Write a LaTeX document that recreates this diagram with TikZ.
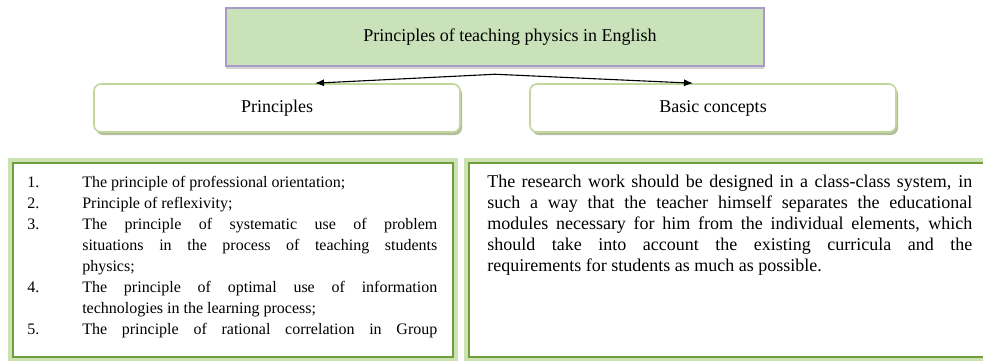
\documentclass[tikz,border=0pt]{standalone}
\usepackage{fontspec}
\setmainfont{Liberation Serif}
\usetikzlibrary{positioning,shadows,arrows.meta}
\definecolor{titlegreen}{RGB}{201,226,185}
\definecolor{titlepurple}{RGB}{167,155,201}
\definecolor{softgreen}{RGB}{195,214,155}
\definecolor{shadowgreen}{RGB}{178,190,160}
\definecolor{darkgreen}{RGB}{110,158,62}
\definecolor{glowgreen}{RGB}{205,226,178}
\tikzstyle{titlebox}=[draw=titlepurple, line width=2.5pt, fill=titlegreen,
  minimum width=538pt, minimum height=58pt, font=\fontsize{18}{21}\selectfont,
  drop shadow={shadow xshift=0pt, shadow yshift=-3pt, fill=gray!70}]
\tikzstyle{headbox}=[draw=softgreen, line width=1.6pt, fill=white,
  rounded corners=7pt, minimum width=366pt, minimum height=48pt,
  font=\fontsize{18}{21}\selectfont,
  drop shadow={shadow xshift=2pt, shadow yshift=-3pt, fill=shadowgreen, opacity=1}]
\tikzstyle{framebox}=[draw=darkgreen, line width=1.8pt, fill=white,
  preaction={draw=glowgreen, line width=10pt}, minimum height=194pt]
\tikzstyle{bodytext}=[inner sep=0pt, anchor=north west, align=justify]
\newcommand{\listentry}[2]{\par\noindent\hangindent=55pt\hangafter=1\makebox[55pt][l]{#1}#2\par}
\tolerance=10000
\hbadness=10000

\begin{document}
\begin{tikzpicture}[>={Latex[length=9pt,width=7pt]}, x=1pt, y=-1pt]
        \useasboundingbox (0,0) rectangle (983,361);
        \node[titlebox] (title) at (495,37) {\hspace*{30pt}Principles of teaching physics in English};
        \node[headbox] (principles) at (277,108) {Principles};
        \node[headbox] (concepts) at (713,108) {Basic concepts};
        \draw[->, line width=1.1pt] ([yshift=-7pt]title.south) -- ([xshift=38pt]principles.north);
        \draw[->, line width=1.1pt] ([yshift=-7pt]title.south) -- ([xshift=-20pt]concepts.north);
        \node[framebox, minimum width=440pt] (listbox) at (233,260) {};
        \node[framebox, minimum width=526pt] (textbox) at (732,260) {};
        \node[bodytext, text width=410pt, font=\fontsize{16}{21}\selectfont,
          below right=4pt and 15pt of listbox.north west] (principlelist) {%
          \listentry{1.}{The principle of professional orientation;}
          \listentry{2.}{Principle of reflexivity;}
          \listentry{3.}{The principle of systematic use of problem\linebreak
            situations in the process of teaching students\linebreak physics;}
          \listentry{4.}{The principle of optimal use of information\linebreak
            technologies in the learning process;}
          {\parfillskip=0pt \listentry{5.}{The principle of rational correlation in Group}}};
        \node[bodytext, text width=485pt, font=\fontsize{18}{21}\selectfont,
          below right=13pt and 19pt of textbox.north west] (conceptstext) {%
          The research work should be designed in a class-class system, in\linebreak
          such a way that the teacher himself separates the educational\linebreak
          modules necessary for him from the individual elements, which\linebreak
          should take into account the existing curricula and the\linebreak
          requirements for students as much as possible.};
    \end{tikzpicture}
\end{document}
